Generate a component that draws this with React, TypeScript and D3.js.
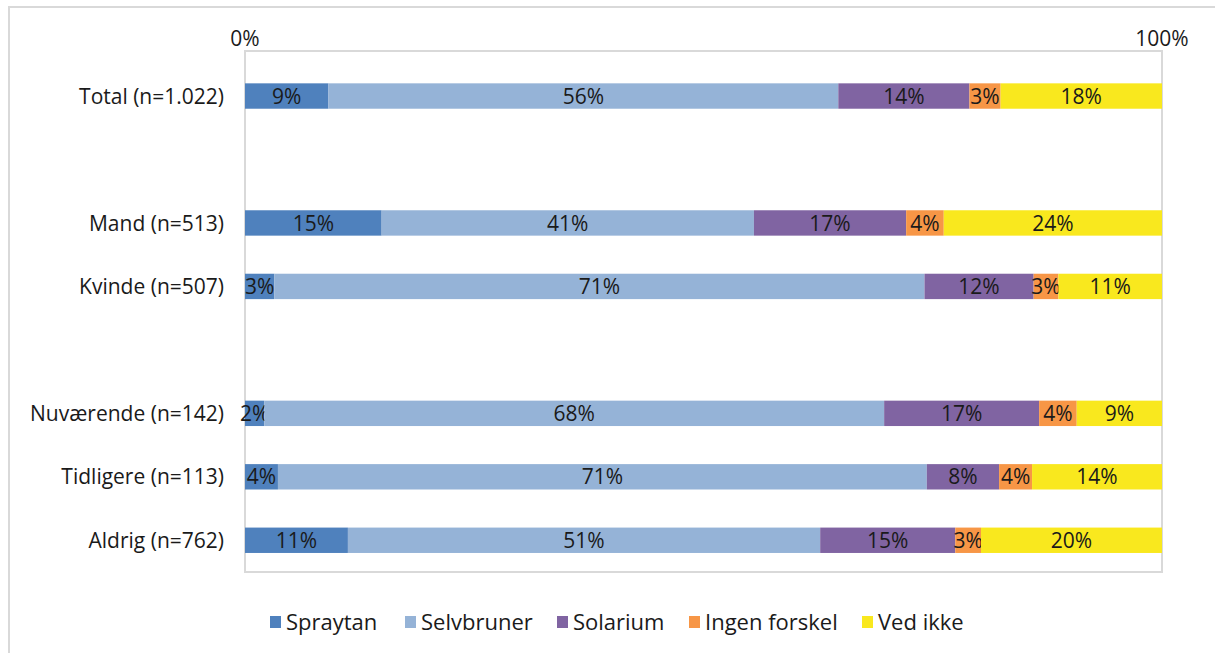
import { useEffect, useRef } from "react"
import * as d3 from "d3"

// rows, with two empty slots as separators (like the original sheet)
const categories = ["Total (n=1.022)", "", "Mand (n=513)", "Kvinde (n=507)", " ", "Nuværende (n=142)", "Tidligere (n=113)", "Aldrig (n=762)"]
const series = ["Spraytan", "Selvbruner", "Solarium", "Ingen forskel", "Ved ikke"]
const colors = ["#4f81bd", "#95b3d7", "#8064a2", "#f79646", "#f9e81e"]

const spraytan = [9.1, 0, 14.9, 3.2, 0, 2.1, 3.6, 11.2]
const selvbruner = [55.6, 0, 40.6, 70.9, 0, 67.6, 70.9, 51.4]
const solarium = [14.3, 0, 16.6, 11.9, 0, 16.9, 7.9, 14.7]
const ingenForskel = [3.4, 0, 4.1, 2.7, 0, 4.1, 3.6, 2.8]
const vedIkke = [17.6, 0, 23.8, 11.3, 0, 9.3, 14.2, 19.7]

const axisTicks = [0, 1]

export default function App() {
  const ref = useRef<SVGSVGElement>(null)

  useEffect(() => {
    document.body.style.margin = "0"
    const svg = d3.select(ref.current)
    svg.selectAll("*").remove()

    const font = "'Open Sans', sans-serif"
    const left = 245, right = 1162, top = 51, bottom = 572

    const rows = categories.map((c, i) => ({
      cat: c,
      Spraytan: spraytan[i],
      Selvbruner: selvbruner[i],
      Solarium: solarium[i],
      "Ingen forskel": ingenForskel[i],
      "Ved ikke": vedIkke[i],
    }))

    const stack = d3.stack<any>().keys(series).offset(d3.stackOffsetExpand)
    const stacked = stack(rows)

    const x = d3.scaleLinear().domain([0, 1]).range([left, right])
    const y = d3.scaleBand().domain(categories).range([64.3, bottom]).paddingInner(0.6).paddingOuter(0.3)

    // outer frame
    svg.append("path")
      .attr("d", "M9,653 V7 H1215")
      .attr("fill", "none")
      .attr("stroke", "#d9d9d9")
      .attr("stroke-width", 2)

    // plot border
    svg.append("rect")
      .attr("x", left).attr("y", top)
      .attr("width", right - left).attr("height", bottom - top)
      .attr("fill", "none")
      .attr("stroke", "#d9d9d9")
      .attr("stroke-width", 2)

    // top axis labels
    svg.append("g").selectAll("text")
      .data(axisTicks)
      .join("text")
      .attr("x", d => x(d))
      .attr("y", 46)
      .attr("text-anchor", "middle")
      .style("font-family", font)
      .style("font-size", "21px")
      .style("fill", "#1a1a1a")
      .text(d => d3.format(".0%")(d))

    // bars
    const bh = y.bandwidth()
    const g = svg.append("g")
    stacked.forEach((s, si) => {
      const pts = s.filter(d => d.data.cat.trim() !== "")
      g.append("g").selectAll("rect")
        .data(pts)
        .join("rect")
        .attr("x", d => x(d[0]))
        .attr("y", d => y(d.data.cat)!)
        .attr("width", d => x(d[1]) - x(d[0]))
        .attr("height", bh)
        .attr("fill", colors[si])

      g.append("g").selectAll("text")
        .data(pts)
        .join("text")
        .attr("x", d => (x(d[0]) + x(d[1])) / 2)
        .attr("y", d => y(d.data.cat)! + bh / 2)
        .attr("dy", "0.36em")
        .attr("text-anchor", "middle")
        .style("font-family", font)
        .style("font-size", "21px")
        .style("fill", "#1a1a1a")
        .text(d => Math.round(d.data[series[si]]) + "%")
    })

    // category labels
    svg.append("g").selectAll("text")
      .data(categories.filter(c => c.trim() !== ""))
      .join("text")
      .attr("x", 224)
      .attr("y", d => y(d)! + bh / 2)
      .attr("dy", "0.36em")
      .attr("text-anchor", "end")
      .style("font-family", font)
      .style("font-size", "21px")
      .style("fill", "#1a1a1a")
      .text(d => d)

    // legend
    const legendX = [270, 405, 557, 689, 862]
    const lg = svg.append("g")
    series.forEach((s, i) => {
      lg.append("rect")
        .attr("x", legendX[i]).attr("y", 616)
        .attr("width", 11).attr("height", 12)
        .attr("fill", colors[i])
      lg.append("text")
        .attr("x", legendX[i] + 16)
        .attr("y", 622)
        .attr("dy", "0.36em")
        .style("font-family", font)
        .style("font-size", "22px")
        .style("fill", "#1a1a1a")
        .text(s)
    })
  }, [])

  return <svg ref={ref} width={1215} height={653} style={{ display: "block", background: "#fff" }} />
}
